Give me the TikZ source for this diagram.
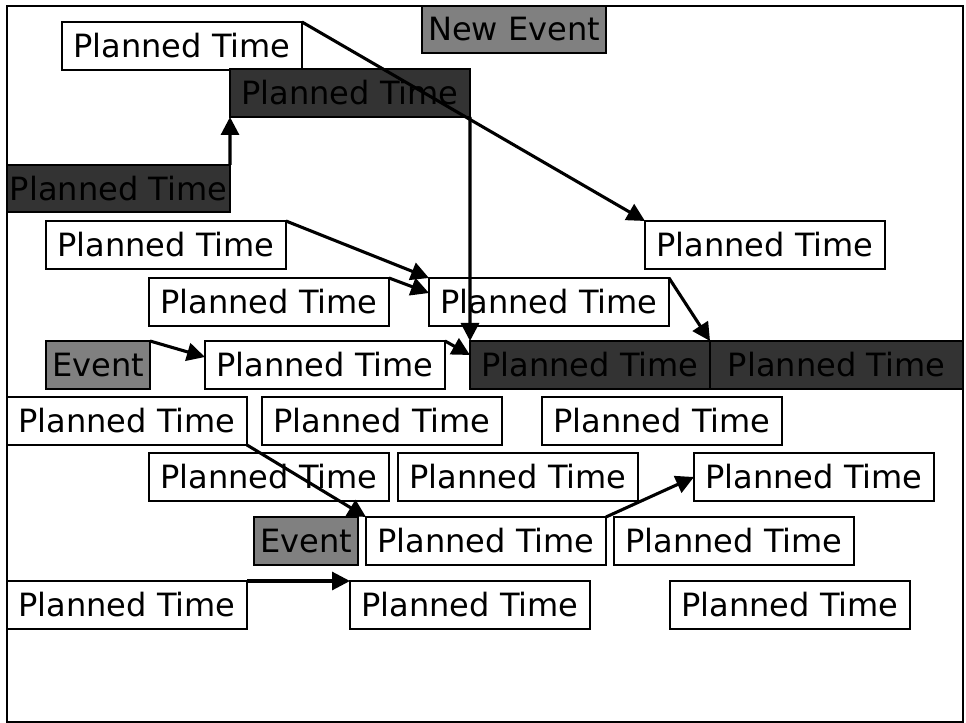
\documentclass[tikz,border=0pt]{standalone}
\usepackage{fontspec}
\setmainfont{DejaVu Sans}
\usetikzlibrary{arrows.meta, calc}
\definecolor{darkColor}{HTML}{333333}
\definecolor{eventColor}{HTML}{808080}
\tikzset{
    plan box/.style={
        rectangle,
        draw=black,
        fill=#1,
        line width=1.4pt,
        minimum width=6cm,
        minimum height=1.2cm,
        inner sep=0pt,
        outer sep=0pt,
        anchor=north west,
        font=\fontsize{22.8}{26}\selectfont,
    },
    plan box/.default=white,
    event box/.style={
        plan box=eventColor,
        minimum width=2.6cm,
    },
    link/.style={
        -{Triangle[length=0.45cm, width=0.45cm]},
        line width=2.2pt,
    },
}
\newcommand{\planNode}[4]{%
    \node[#2] (#1) at (#4) {#3};
}

\begin{document}
\begin{tikzpicture}

\useasboundingbox (0, 0) rectangle (24.15, -18.075);

% ── FRAME ──────────────────────────────────────────────────────────

\draw[line width=1.4pt] (0.175, -0.15) rectangle (24.075, -18.05);

% ── TOP ────────────────────────────────────────────────────────────

\planNode{pt1}{plan box}{Planned Time}{1.55, -0.55}
\planNode{newevent}{event box, minimum width=4.6cm, minimum height=1.175cm}{New Event}{10.55, -0.15}
\planNode{dka}{plan box=darkColor}{Planned Time}{5.75, -1.725}
\planNode{dkb}{plan box=darkColor, minimum width=5.575cm, minimum height=1.175cm}{Planned Time}{0.175, -4.125}

% ── MIDDLE ─────────────────────────────────────────────────────────

\planNode{pt5}{plan box}{Planned Time}{1.15, -5.525}
\planNode{pt6}{plan box}{Planned Time}{16.125, -5.525}
\planNode{pt7}{plan box}{Planned Time}{3.725, -6.95}
\planNode{pt8}{plan box}{Planned Time}{10.725, -6.95}
\planNode{ev9}{event box}{Event}{1.15, -8.525}
\planNode{pt10}{plan box}{Planned Time}{5.125, -8.525}
\planNode{dk11}{plan box=darkColor}{Planned Time}{11.75, -8.525}
\planNode{dk12}{plan box=darkColor, minimum width=6.325cm}{Planned Time}{17.75, -8.525}

% ── BOTTOM ─────────────────────────────────────────────────────────

\planNode{pt13}{plan box}{Planned Time}{0.175, -9.925}
\planNode{pt14}{plan box}{Planned Time}{6.55, -9.925}
\planNode{pt15}{plan box}{Planned Time}{13.55, -9.925}
\planNode{pt16}{plan box}{Planned Time}{3.725, -11.325}
\planNode{pt17}{plan box}{Planned Time}{9.95, -11.325}
\planNode{pt18}{plan box}{Planned Time}{17.35, -11.325}
\planNode{ev19}{event box}{Event}{6.35, -12.925}
\planNode{pt20}{plan box}{Planned Time}{9.15, -12.925}
\planNode{pt21}{plan box}{Planned Time}{15.35, -12.925}
\planNode{pt22}{plan box}{Planned Time}{0.175, -14.525}
\planNode{pt23}{plan box}{Planned Time}{8.75, -14.525}
\planNode{pt24}{plan box}{Planned Time}{16.75, -14.525}

% ── LINKS ──────────────────────────────────────────────────────────

\draw[link] (pt1.north east) -- (pt6.north west);
\draw[link] (dkb.north east) -- (dka.south west);
\draw[link] (dka.south east) -- (dk11.north west);
\draw[link] (pt5.north east) -- (pt8.north west);
\draw[link] (pt7.north east) -- ([yshift=-0.375cm]pt8.north west);
\draw[link] (ev9.north east) -- ([yshift=-0.4cm]pt10.north west);
\draw[link] (pt10.north east) -- ([yshift=-0.35cm]dk11.north west);
\draw[link] (pt8.north east) -- (dk12.north west);
\draw[link] (pt13.south east) -- (pt20.north west);
\draw[link] (pt20.north east) -- (pt18.west);
\draw[link] (pt22.north east) -- (pt23.north west);

\end{tikzpicture}
\end{document}
